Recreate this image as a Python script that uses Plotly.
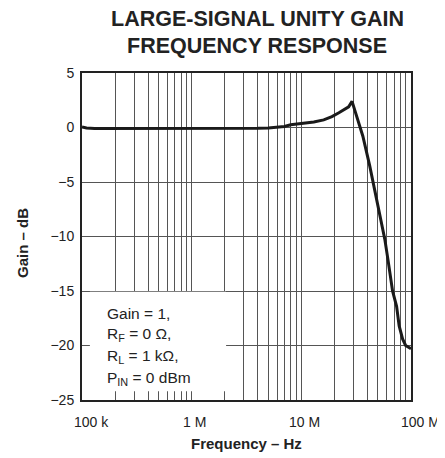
import math
import plotly.graph_objects as go

# ---- data ----
freq_hz = [1e5, 1.1e5, 1.3e5, 2e5, 3e5, 5e5, 7e5, 1e6, 1.5e6, 2e6, 3e6, 4e6, 5e6, 6e6,
           7e6, 8e6, 9e6, 1.1e7, 1.3e7, 1.6e7, 1.9e7, 2.2e7, 2.5e7, 2.7e7, 2.9e7,
           3.2e7, 3.64e7, 4.2e7, 4.89e7, 5.78e7, 6.16e7, 6.79e7, 7.39e7, 7.8e7,
           8.38e7, 8.93e7, 1e8]
gain_db = [0.05, -0.05, -0.1, -0.1, -0.12, -0.1, -0.12, -0.1, -0.08, -0.1, -0.1, -0.08,
           -0.05, 0.0, 0.1, 0.25, 0.3, 0.38, 0.5, 0.7, 1.0, 1.35, 1.65, 1.9, 2.4,
           1.0, -0.8, -3.5, -6.6, -10.3, -12.1, -15.0, -16.4, -18.2, -19.4, -20.0, -20.3]

x_major = [1e5, 1e6, 1e7, 1e8]
x_major_labels = ["100 k", "1 M", "10 M", "100 M"]
y_ticks = [5, 0, -5, -10, -15, -20, -25]
y_tick_labels = ["5", "0", "\u22125", "\u221210", "\u221215", "\u221220", "\u221225"]

title_lines = ["LARGE-SIGNAL UNITY GAIN", "FREQUENCY RESPONSE"]
legend_lines = ["Gain = 1,", "R<sub>F</sub> = 0 \u03a9,", "R<sub>L</sub> = 1 k\u03a9,",
                "P<sub>IN</sub> = 0 dBm"]

# grid lines at every 1..9 multiple in each decade
xgrid = [d * m for d in [1e5, 1e6, 1e7] for m in range(1, 10)] + [1e8]

FONT = "Liberation Sans, Arial, sans-serif"
OFF = 8  # default page body margin
W, H = 445 - OFF, 458 - OFF
L, R, T, B = 82 - OFF, 411 - OFF, 73 - OFF, 400 - OFF
PW, PH = R - L, B - T


def px(xp):
    return (xp - OFF - L) / PW


def py(yp):
    return (B - (yp - OFF)) / PH


fig = go.Figure()
fig.add_trace(go.Scatter(x=freq_hz, y=gain_db, mode="lines",
                         line=dict(color="#1a1a1a", width=3), hoverinfo="skip",
                         showlegend=False))

# white box for the conditions text
fig.add_shape(type="rect", xref="x", yref="y", x0=1.18e5, x1=2.06e6, y0=-24.2, y1=-15.08,
              fillcolor="white", line=dict(width=0), layer="above")

for i, t in enumerate(legend_lines):
    fig.add_annotation(xref="paper", yref="paper", x=px(105), y=py(313 + i * 21.7),
                       xanchor="left", yanchor="middle",
                       text=t, showarrow=False, font=dict(family=FONT, size=15.5, color="#222"))

for i, t in enumerate(title_lines):
    fig.add_annotation(xref="paper", yref="paper", x=px(257), y=py(19 + i * 27),
                       xanchor="center", yanchor="middle",
                       text="<b>" + t + "</b>", showarrow=False,
                       font=dict(family=FONT, size=21.5, color="#222"))

# x tick labels (slightly offset to the right as in the original)
x_label_shift = [9, 3, 3, 9]
for v, t, s in zip(x_major, x_major_labels, x_label_shift):
    fig.add_annotation(xref="x", yref="paper", x=math.log10(v), y=py(422),
                       xanchor="center", yanchor="middle", xshift=s, showarrow=False,
                       text=t, font=dict(family=FONT, size=14, color="#222"))

fig.add_annotation(xref="paper", yref="paper", x=px(246), y=py(443),
                   xanchor="center", yanchor="middle", showarrow=False,
                   text="<b>Frequency \u2013 Hz</b>", font=dict(family=FONT, size=15, color="#222"))
fig.add_annotation(xref="paper", yref="paper", x=px(22), y=py(243),
                   xanchor="center", yanchor="middle", showarrow=False, textangle=-90,
                   text="<b>Gain \u2013 dB</b>", font=dict(family=FONT, size=15, color="#222"))

fig.update_layout(
    width=W, height=H,
    margin=dict(l=L, r=W - R, t=T, b=H - B, autoexpand=False),
    paper_bgcolor="white", plot_bgcolor="white",
    font=dict(family=FONT, size=14, color="#222"),
)
fig.update_xaxes(type="log", range=[5, 8], tickvals=xgrid, showticklabels=False,
                 showgrid=True, gridcolor="#555", gridwidth=1,
                 showline=True, linecolor="#222", linewidth=2, mirror=True,
                 ticks="", zeroline=False, automargin=False)
fig.update_yaxes(range=[-25, 5], tickvals=y_ticks, ticktext=y_tick_labels,
                 showgrid=True, gridcolor="#555", gridwidth=1,
                 showline=True, linecolor="#222", linewidth=2, mirror=True,
                 ticks="", ticklabelstandoff=3, zeroline=False, automargin=False)

fig.write_html("out.html")
